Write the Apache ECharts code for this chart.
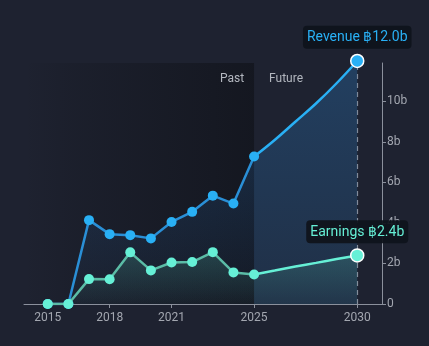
<!DOCTYPE html>
<html><head><meta charset="utf-8">
<script src="https://cdn.jsdelivr.net/npm/echarts@6/dist/echarts.min.js"></script>
<style>html,body{margin:0;padding:0;background:#1e2230;}#c{width:429px;height:346px;}</style>
</head><body><div id="c"></div>
<script>
const pastYears = [2015,2016,2017,2018,2019,2020,2021,2022,2023,2024,2025];
const revenuePast = [0,0,4.14,3.45,3.4,3.24,4.05,4.55,5.35,4.96,7.28];
const earningsPast = [0,0,1.23,1.22,2.55,1.66,2.05,2.07,2.56,1.56,1.46];
const futureYears = [2025,2026,2027,2028,2029,2030];
const revenueFuture = [7.28,8.1,9.0,9.9,10.9,12.0];
const earningsFuture = [1.46,1.65,1.85,2.03,2.22,2.4];
const xLabelYears = [2015,2018,2021,2025,2030];
const yTicks = [0,2,4,6,8,10];

const FONT = 'Roboto, "Noto Sans", sans-serif';
const REV = '#29b0f5', REV_LINE = '#2a8fd6';
const ERN = '#66f0d6', ERN_LINE = '#5bbca6';
const GRAY = '#8b909c';
const X_MIN = 2013.85, X_MAX = 2031.2, Y_MAX = 11.9;

function pairs(xs, ys){ return xs.map((x,i)=>[x, ys[i]]); }
function futureData(xs, ys, color, labelText){
  return xs.map((x,i)=>{
    if (i === xs.length-1) {
      return {value:[x, ys[i]], symbol:'circle', symbolSize:13,
        itemStyle:{color:color, borderColor:'#ffffff', borderWidth:1.5},
        label:{show:true, position:'top', distance:5, formatter:labelText,
          color:color, fontSize:14, fontFamily:FONT, backgroundColor:'rgba(15,19,28,0.94)',
          padding:[5,4,4,4], borderRadius:4}};
    }
    return {value:[x, ys[i]], symbol:'none'};
  });
}
function grad(c1, c2){ return new echarts.graphic.LinearGradient(0,0,0,1,[{offset:0,color:c1},{offset:1,color:c2}]); }

const chart = echarts.init(document.getElementById('c'));
chart.setOption({
  backgroundColor:'#1e2230',
  animation:false,
  grid:{left:24, right:47, top:63, bottom:42},
  xAxis:{type:'value', min:X_MIN, max:X_MAX,
    axisLine:{show:true, lineStyle:{color:GRAY, width:1}},
    axisTick:{show:true, customValues:xLabelYears, length:4, lineStyle:{color:GRAY}},
    axisLabel:{customValues:xLabelYears, color:'#a3a7b0', fontSize:12, fontFamily:FONT, margin:8, formatter:v=>String(v)},
    splitLine:{show:false}},
  yAxis:{type:'value', position:'right', min:0, max:Y_MAX, interval:2, z:1,
    axisLine:{show:true, lineStyle:{color:GRAY, width:1}},
    axisTick:{show:true, customValues:yTicks, length:4, lineStyle:{color:GRAY}},
    axisLabel:{customValues:yTicks, color:'#a3a7b0', fontSize:12, fontFamily:FONT, margin:5,
      formatter:v=> v===0 ? '0' : v+'b'},
    splitLine:{show:false}},
  series:[
    {type:'line', name:'Revenue', data:pairs(pastYears, revenuePast), z:3,
      symbol:'circle', symbolSize:10, showSymbol:true,
      lineStyle:{color:REV_LINE, width:2.5}, itemStyle:{color:REV},
      areaStyle:{color:grad('rgba(40,120,200,0.28)','rgba(40,120,200,0.03)')},
      markArea:{silent:true, z:1, label:{show:false}, data:[
        [{xAxis:X_MIN, itemStyle:{color:new echarts.graphic.LinearGradient(0,0,1,0,[{offset:0,color:'rgba(14,16,22,0)'},{offset:0.2,color:'rgba(14,16,22,0.15)'},{offset:1,color:'rgba(14,16,22,0.6)'}])}},
         {xAxis:2025}]
      ]},
      markLine:{silent:true, z:2, symbol:'none', label:{show:false},
        lineStyle:{color:GRAY, type:[5,4], width:1.2}, data:[{xAxis:2030}]}
    },
    {type:'line', name:'RevenueF', data:futureData(futureYears, revenueFuture, REV, 'Revenue ฿12.0b'), z:3,
      smooth:0.4, clip:false, lineStyle:{color:REV, width:2.5}, itemStyle:{color:REV},
      areaStyle:{color:grad('rgba(38,90,140,0.75)','rgba(38,90,140,0.35)')}},
    {type:'line', name:'Earnings', data:pairs(pastYears, earningsPast), z:4,
      symbol:'circle', symbolSize:10, showSymbol:true,
      lineStyle:{color:ERN_LINE, width:2.5}, itemStyle:{color:ERN},
      areaStyle:{color:grad('rgba(90,210,180,0.28)','rgba(90,210,180,0.03)')}},
    {type:'line', name:'EarningsF', data:futureData(futureYears, earningsFuture, ERN, 'Earnings ฿2.4b'), z:4,
      smooth:0.3, clip:false, lineStyle:{color:ERN, width:2.5}, itemStyle:{color:ERN},
      areaStyle:{color:grad('rgba(90,210,180,0.28)','rgba(90,210,180,0.05)')}}
  ]
});
const split = chart.convertToPixel({gridIndex:0}, [2025, Y_MAX]);
chart.setOption({graphic:[
  {type:'text', z:100, x:split[0]-10, y:split[1]+16, style:{text:'Past', fill:'#b3b7bf', font:'12px '+FONT, align:'right', verticalAlign:'middle'}},
  {type:'text', z:100, x:split[0]+15, y:split[1]+16, style:{text:'Future', fill:'#b3b7bf', font:'12px '+FONT, align:'left', verticalAlign:'middle'}}
]});
</script></body></html>
